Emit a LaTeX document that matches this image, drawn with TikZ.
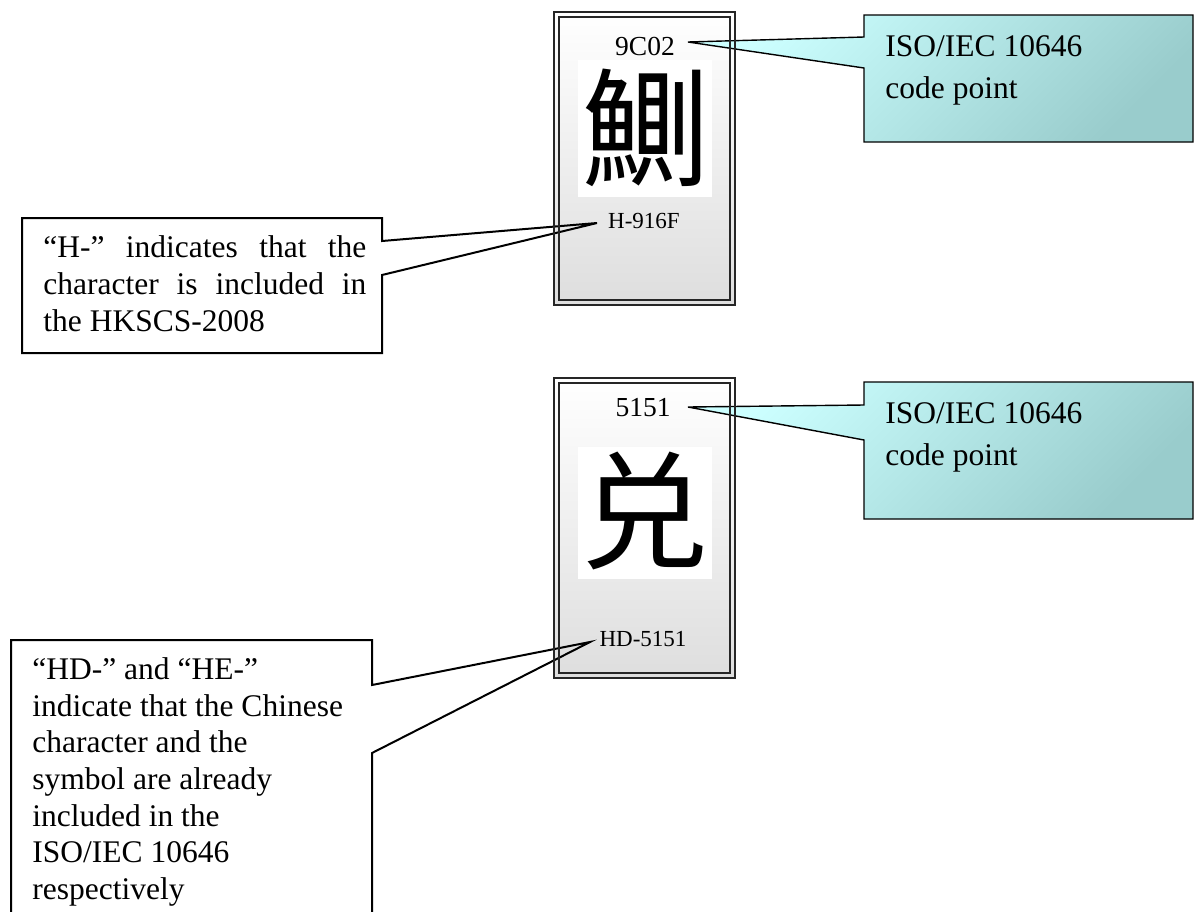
\documentclass[tikz,border=0pt]{standalone}
\usepackage{fontspec}
\setmainfont{Liberation Serif}
\newfontfamily\cjkfont{Noto Sans CJK TC}
\definecolor{cyanlight}{HTML}{CCFFFF}
\definecolor{tealdark}{HTML}{99CCCC}
\tikzset{
  cardfill/.style={top color=white, bottom color=black!13, draw=none},
  cardouter/.style={draw=black!85, line width=1pt},
  cardinner/.style={draw=black!85, line width=0.7pt},
  charsq/.style={fill=white, draw=none},
  callcyan/.style={top color=cyanlight, bottom color=tealdark, shading angle=45, draw=black, line width=0.7pt},
  callwhite/.style={draw=black, line width=1pt},
  bigtext/.style={font=\fontsize{15.75}{18.5}\selectfont, inner sep=0pt, anchor=base west},
  codelbl/.style={font=\fontsize{13.75}{16}\selectfont, inner sep=0pt},
  reflbl/.style={font=\fontsize{11.5}{14}\selectfont, inner sep=0pt},
  glyph/.style={font=\cjkfont\fontsize{64}{70}\selectfont, inner sep=0pt}
}
\begin{document}
\begin{tikzpicture}[x=0.5pt,y=-0.5pt]
\useasboundingbox (0,0) rectangle (1194,911);
\clip (0,0) rectangle (1194,911);
% ---------- cards (fill) ----------
\fill[cardfill] (554,12) rectangle (735,305);
\fill[charsq] (578,60) rectangle (712,197);
\node[glyph] (g1) at (646,128) {鰂};
\node[codelbl] (cp1) at (645,46) {9C02};
\node[reflbl] (r1) at (644,221) {H-916F};

\fill[cardfill] (554,378) rectangle (735,678);
\fill[charsq] (578,447) rectangle (712,579);
\node[glyph] (g2) at (644,511) {兑};
\node[codelbl] (cp2) at (643,408) {5151};
\node[reflbl] (r2) at (643,639) {HD-5151};

% ---------- tips ----------
\coordinate (t1) at (688,42);
\coordinate (t2) at (597,223);
\coordinate (t3) at (688,407);
\coordinate (t4) at (590,642);

% ---------- cyan callouts ----------
\path[callcyan] (864,15) -- (1193,15) -- (1193,142) -- (864,142) -- (864,68) -- (t1) -- (864,37) -- cycle;
\node[bigtext] (c1a) at (885,56) {ISO/IEC 10646};
\node[bigtext] (c1b) at (885,98) {code point};

\path[callcyan] (864,382) -- (1193,382) -- (1193,519) -- (864,519) -- (864,440) -- (t3) -- (864,405) -- cycle;
\node[bigtext] (c2a) at (885,423) {ISO/IEC 10646};
\node[bigtext] (c2b) at (885,465) {code point};

% ---------- white callouts ----------
\draw[callwhite] (22,218) -- (382,218) -- (382,241) -- (t2) -- (382,275) -- (382,353) -- (22,353) -- cycle;
\node[bigtext] (h1) at (43,257) {\makebox[161.5pt][s]{“H-” indicates that the}};
\node[bigtext] (h2) at (43,294) {\makebox[161.5pt][s]{character is included in}};
\node[bigtext] (h3) at (43,331) {the HKSCS-2008};

\draw[callwhite] (11,920) -- (11,640) -- (372,640) -- (372,685) -- (t4) -- (372,753) -- (372,920);
\node[bigtext] (d1) at (32,679) {“HD-” and “HE-”};
\node[bigtext] (d2) at (32,716) {indicate that the Chinese};
\node[bigtext] (d3) at (32,752) {character and the};
\node[bigtext] (d4) at (32,789) {symbol are already};
\node[bigtext] (d5) at (32,826) {included in the};
\node[bigtext] (d6) at (32,862) {ISO/IEC 10646};
\node[bigtext] (d7) at (32,899) {respectively};

% ---------- card borders on top ----------
\draw[cardouter] (554,12) rectangle (735,305);
\draw[cardinner] (559,17) rectangle (730,300);
\draw[cardouter] (554,378) rectangle (735,678);
\draw[cardinner] (559,383) rectangle (730,673);
\end{tikzpicture}
\end{document}
